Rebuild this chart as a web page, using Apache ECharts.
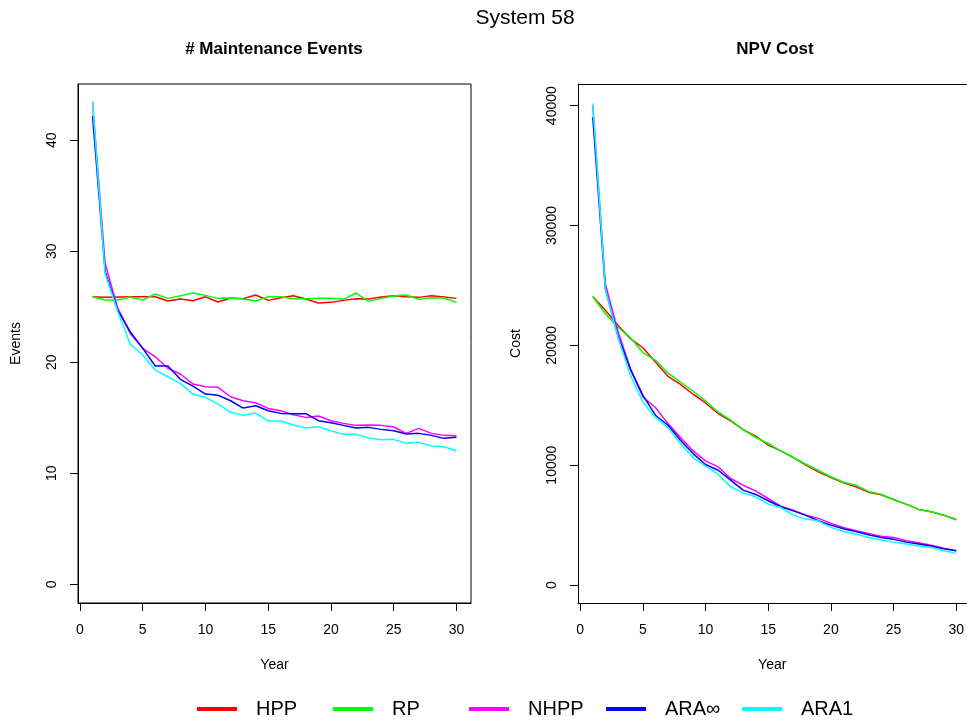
<!DOCTYPE html>
<html>
<head>
<meta charset="utf-8">
<script src="https://cdn.jsdelivr.net/npm/echarts@6/dist/echarts.min.js"></script>
<style>
html,body{margin:0;padding:0;background:#fff;}
#c{width:967px;height:720px;}
</style>
</head>
<body>
<div id="c"></div>
<script>
const years = Array.from({length: 30}, (_, i) => i + 1);
const seriesNames = ['HPP', 'RP', 'NHPP', 'ARA\u221E', 'ARA1'];
const seriesColors = ['#FF0000', '#00FF00', '#FF00FF', '#0000FF', '#00FFFF'];
const xTicks = [0, 5, 10, 15, 20, 25, 30];
const eventTicks = [0, 10, 20, 30, 40];
const costTicks = [0, 10000, 20000, 30000, 40000];

// # Maintenance Events
const eventsHPP = [25.9, 25.85, 25.88, 25.9, 25.9, 25.9, 25.52, 25.7, 25.55, 25.9, 25.43, 25.79, 25.73, 26.06, 25.58, 25.82, 26.0, 25.7, 25.34, 25.4, 25.58, 25.73, 25.7, 25.88, 26.0, 25.91, 25.85, 26.0, 25.88, 25.76];
const eventsRP = [25.91, 25.61, 25.61, 25.88, 25.61, 26.15, 25.76, 26.0, 26.24, 26.03, 25.76, 25.79, 25.70, 25.52, 25.91, 25.91, 25.73, 25.73, 25.76, 25.76, 25.67, 26.24, 25.49, 25.76, 25.97, 26.06, 25.67, 25.82, 25.79, 25.4];
const eventsNHPP = [43.4, 28.9, 24.9, 22.6, 21.26, 20.5, 19.46, 18.95, 18.05, 17.8, 17.75, 16.9, 16.54, 16.36, 15.85, 15.64, 15.28, 15.04, 15.16, 14.74, 14.5, 14.32, 14.35, 14.32, 14.17, 13.6, 14.05, 13.6, 13.42, 13.39];
const eventsARAinf = [42.2, 28.2, 24.7, 22.76, 21.26, 19.67, 19.67, 18.47, 17.86, 17.14, 17.03, 16.54, 15.88, 16.09, 15.64, 15.4, 15.37, 15.37, 14.74, 14.56, 14.32, 14.08, 14.14, 13.96, 13.84, 13.54, 13.6, 13.42, 13.15, 13.24];
const eventsARA1 = [43.5, 28.0, 24.6, 21.65, 20.66, 19.3, 18.7, 18.1, 17.14, 16.85, 16.24, 15.5, 15.22, 15.43, 14.71, 14.71, 14.35, 14.08, 14.2, 13.84, 13.51, 13.51, 13.18, 13.03, 13.06, 12.7, 12.79, 12.46, 12.4, 12.04];

// NPV Cost
const costHPP = [24080, 22920, 21670, 20560, 19800, 18610, 17420, 16750, 15920, 15190, 14310, 13690, 12970, 12420, 11670, 11190, 10640, 10000, 9440, 8970, 8530, 8190, 7750, 7530, 7140, 6750, 6310, 6110, 5830, 5470];
const costRP = [24080, 22640, 21530, 20640, 19400, 18750, 17690, 16940, 16170, 15360, 14440, 13750, 12970, 12310, 11810, 11190, 10640, 10080, 9580, 9030, 8580, 8330, 7810, 7580, 7140, 6750, 6310, 6110, 5830, 5420];
const costNHPP = [40000, 25140, 21200, 18060, 15690, 14810, 13470, 12310, 11190, 10360, 9860, 8890, 8330, 7860, 7220, 6580, 6250, 5830, 5560, 5140, 4810, 4530, 4310, 4080, 3970, 3690, 3530, 3330, 3080, 2860];
const costARAinf = [39030, 24730, 20800, 18000, 15830, 14170, 13330, 12080, 10970, 10060, 9580, 8750, 7920, 7560, 7030, 6530, 6190, 5810, 5360, 5000, 4690, 4470, 4190, 3970, 3810, 3580, 3420, 3250, 3030, 2860];
const costARA1 = [40190, 24730, 20700, 17500, 15280, 13970, 13140, 11810, 10640, 9920, 9250, 8190, 7690, 7360, 6750, 6470, 5830, 5500, 5360, 4810, 4470, 4250, 3970, 3750, 3580, 3420, 3250, 3140, 2860, 2640];

const eventsData = [eventsHPP, eventsRP, eventsNHPP, eventsARAinf, eventsARA1];
const costData = [costHPP, costRP, costNHPP, costARAinf, costARA1];

const FONT = 'Liberation Sans, Arial, Helvetica, sans-serif';
const chart = echarts.init(document.getElementById('c'), null, {renderer: 'canvas'});

function pairs(arr) { return years.map((y, i) => [y, arr[i]]); }

function xAxisFor(gridIndex, min, max) {
  return {
    type: 'value', gridIndex: gridIndex, min: min, max: max, position: 'bottom',
    name: 'Year', nameLocation: 'middle', nameGap: 55,
    nameTextStyle: {color: '#000', fontSize: 14, fontFamily: FONT},
    axisLine: {show: true, onZero: false, lineStyle: {color: '#000', width: 1}},
    axisTick: {show: true, length: 8, lineStyle: {color: '#000', width: 1}, customValues: xTicks},
    axisLabel: {color: '#000', fontSize: 14, fontFamily: FONT, margin: 20, customValues: xTicks},
    splitLine: {show: false}
  };
}
// top edge of the plot box (no ticks, no labels)
function topAxisFor(gridIndex, min, max) {
  return {
    type: 'value', gridIndex: gridIndex, min: min, max: max, position: 'top',
    axisLine: {show: true, onZero: false, lineStyle: {color: '#000', width: 1}},
    axisTick: {show: false}, axisLabel: {show: false}, splitLine: {show: false}
  };
}
function yAxisFor(gridIndex, min, max, ticks, name) {
  return {
    type: 'value', gridIndex: gridIndex, min: min, max: max,
    name: name, nameLocation: 'middle', nameGap: 55,
    nameTextStyle: {color: '#000', fontSize: 14, fontFamily: FONT},
    axisLine: {show: true, onZero: false, lineStyle: {color: '#000', width: 1}},
    axisTick: {show: true, length: 8, lineStyle: {color: '#000', width: 1}, customValues: ticks},
    axisLabel: {color: '#000', fontSize: 14, fontFamily: FONT, margin: 19, rotate: 90,
      customValues: ticks, formatter: v => String(v)},
    splitLine: {show: false}
  };
}

const series = [];
for (let g = 0; g < 2; g++) {
  const data = g === 0 ? eventsData : costData;
  for (let k = 0; k < 5; k++) {
    series.push({
      type: 'line', name: seriesNames[k], xAxisIndex: g, yAxisIndex: g,
      data: pairs(data[k]), showSymbol: false, symbol: 'none', clip: false,
      lineStyle: {color: seriesColors[k], width: 1.5}, itemStyle: {color: seriesColors[k]},
      animation: false
    });
  }
}

const legendLefts = [197, 333, 469, 606, 742];
const legends = seriesNames.map((n, k) => ({
  data: [n], left: legendLefts[k], top: 699, orient: 'horizontal',
  icon: 'rect', itemWidth: 40, itemHeight: 4, padding: 0,
  textStyle: {color: '#000', fontSize: 20, fontFamily: FONT, padding: [0, 0, 0, 14]}
}));

chart.setOption({
  backgroundColor: '#fff',
  animation: false,
  title: [
    {text: 'System 58', left: 525, top: 8, textAlign: 'center', padding: 0,
      textStyle: {color: '#000', fontSize: 21, fontWeight: 'normal', fontFamily: FONT}},
    {text: '# Maintenance Events', left: 274, top: 41, textAlign: 'center', padding: 0,
      textStyle: {color: '#000', fontSize: 17, fontWeight: 'bold', fontFamily: FONT}},
    {text: 'NPV Cost', left: 775, top: 41, textAlign: 'center', padding: 0,
      textStyle: {color: '#000', fontSize: 17, fontWeight: 'bold', fontFamily: FONT}}
  ],
  legend: legends,
  grid: [
    {left: 78, top: 84, width: 393, height: 519, show: true, borderColor: '#000', borderWidth: 1, containLabel: false},
    {left: 578, top: 84, width: 389, height: 519, show: false, containLabel: false}
  ],
  xAxis: [
    xAxisFor(0, -0.16, 31.16),
    xAxisFor(1, -0.18, 30.82),
    topAxisFor(1, -0.18, 30.82)
  ],
  yAxis: [
    yAxisFor(0, -1.68, 45.07, eventTicks, 'Events'),
    yAxisFor(1, -1500, 41808, costTicks, 'Cost')
  ],
  series: series
});
</script>
</body>
</html>
